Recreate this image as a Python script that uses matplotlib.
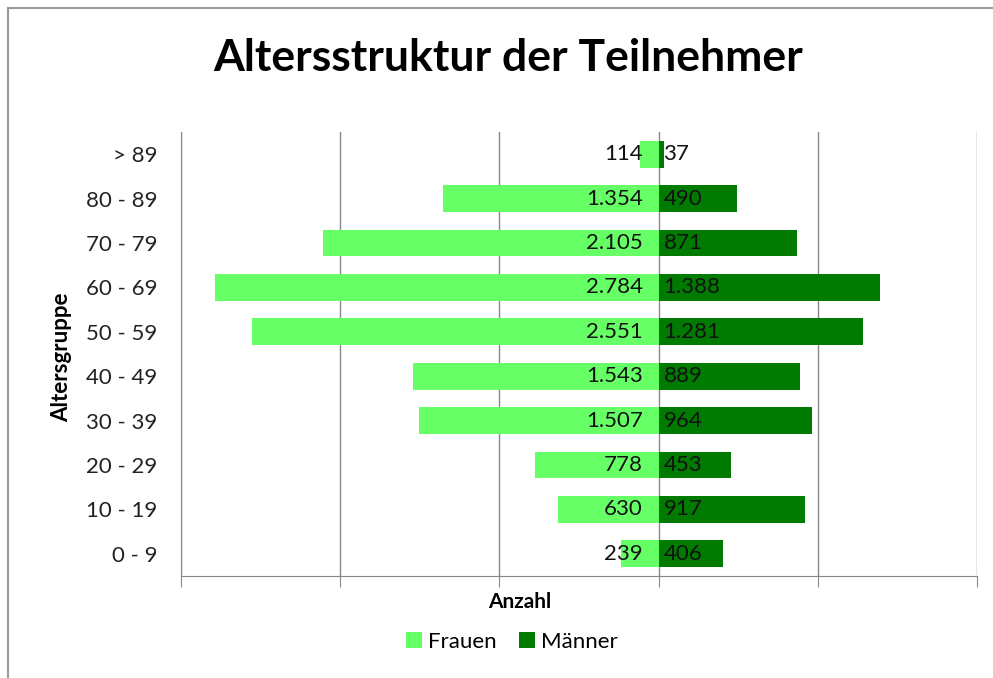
import matplotlib.pyplot as plt
from matplotlib.lines import Line2D

plt.rcParams['font.family'] = ['Lato', 'DejaVu Sans']

altersgruppen = ['0 - 9', '10 - 19', '20 - 29', '30 - 39', '40 - 49',
                 '50 - 59', '60 - 69', '70 - 79', '80 - 89', '> 89']
frauen = [239, 630, 778, 1507, 1543, 2551, 2784, 2105, 1354, 114]
maenner = [406, 917, 453, 964, 889, 1281, 1388, 871, 490, 37]

farbe_frauen = '#66FF66'
farbe_maenner = '#007A00'


def fmt(v):
    return f"{v:,}".replace(',', '.')


fig = plt.figure(figsize=(9.93, 6.78), dpi=100)
ax = fig.add_axes([181 / 993, 1 - 576 / 678, (977 - 181) / 993, (576 - 132) / 678])

y = range(len(altersgruppen))
ax.barh(y, [-v for v in frauen], height=0.6, color=farbe_frauen, label='Frauen', zorder=2)
ax.barh(y, maenner, height=0.6, color=farbe_maenner, label='Männer', zorder=2)

for i in y:
    ax.text(-100, i, fmt(frauen[i]), ha='right', va='center', fontsize=16, color='#111111', zorder=3)
    ax.text(30, i, fmt(maenner[i]), ha='left', va='center', fontsize=16, color='#111111', zorder=3)

ax.set_xlim(-3000, 2000)
ax.set_ylim(-0.5, len(altersgruppen) - 0.5)
ax.set_xticks([-3000, -2000, -1000, 0, 1000, 2000])
ax.set_xticklabels([])
ax.set_yticks(list(y))
ax.set_yticklabels(altersgruppen, fontsize=16, color='#222222')
ax.tick_params(axis='y', length=0, pad=17)
ax.tick_params(axis='x', length=8, color='#888888', direction='out')
ax.grid(axis='x', color='#888888', linewidth=1, zorder=1)
for s in ['top', 'right']:
    ax.spines[s].set_visible(False)
ax.spines['left'].set_color('#888888')
ax.spines['bottom'].set_color('#888888')

fig.text(520 / 993, 1 - 602 / 678, 'Anzahl', ha='center', va='center', fontsize=15, fontweight='bold')
fig.text(62 / 993, 1 - 357 / 678, 'Altersgruppe', ha='center', va='center', rotation=90,
         fontsize=16, fontweight='bold')
fig.text(508 / 993, 1 - 58 / 678, 'Altersstruktur der Teilnehmer', ha='center', va='center',
         fontsize=32, fontweight='bold')

fig.legend(loc='center', bbox_to_anchor=(512 / 993, 1 - 642 / 678), ncol=2, frameon=False,
           fontsize=16, handlelength=0.7, handleheight=0.7, handletextpad=0.3, columnspacing=1.0)

# Rahmen oben und links
fig.add_artist(Line2D([8 / 993, 1], [1 - 8 / 678, 1 - 8 / 678], color='#999999', lw=1.5))
fig.add_artist(Line2D([8 / 993, 8 / 993], [0, 1 - 8 / 678], color='#999999', lw=1.5))

fig.savefig('out.png', dpi=100)
